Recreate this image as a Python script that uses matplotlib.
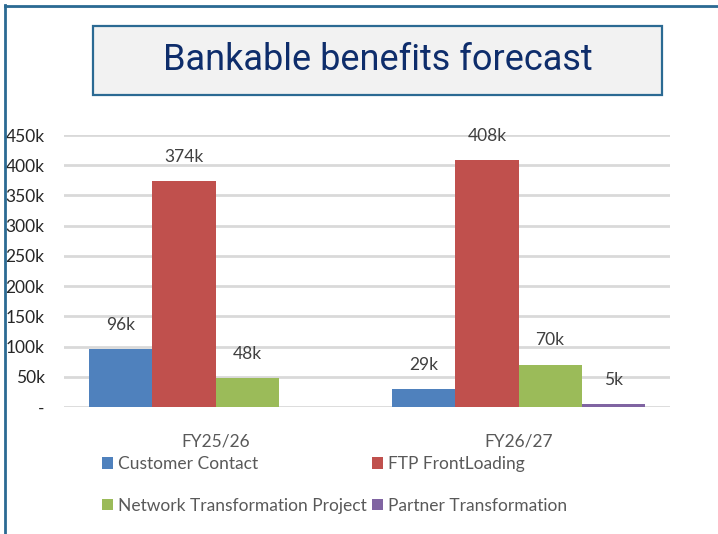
import matplotlib
matplotlib.use("Agg")
import matplotlib.pyplot as plt
from matplotlib.patches import Rectangle
from matplotlib.lines import Line2D
import numpy as np

categories = ["FY25/26", "FY26/27"]
series_names = ["Customer Contact", "FTP FrontLoading",
                "Network Transformation Project", "Partner Transformation"]
series_values = {
    "Customer Contact": [96000, 29000],
    "FTP FrontLoading": [374000, 408000],
    "Network Transformation Project": [48000, 70000],
    "Partner Transformation": [0, 5000],
}
series_colors = ["#4F81BD", "#C0504D", "#9BBB59", "#8064A2"]
yticks = [0, 50000, 100000, 150000, 200000, 250000, 300000, 350000, 400000, 450000]
ytick_labels = ["-", "50k", "100k", "150k", "200k", "250k", "300k", "350k", "400k", "450k"]
title = "Bankable benefits forecast"

W, H = 718, 534
fig = plt.figure(figsize=(W / 100, H / 100), dpi=100)
fig.patch.set_facecolor("white")

body_font = ["Lato", "DejaVu Sans"]

# outer frame (top and left edges)
border = "#2B6A93"
fig.add_artist(Line2D([4.5 / W, 1], [1 - 7 / H, 1 - 7 / H], color="#DDDDDD", lw=1.5, transform=fig.transFigure))
fig.add_artist(Line2D([5 / W, 1], [1 - 5.5 / H, 1 - 5.5 / H], color=border, lw=2, transform=fig.transFigure))
fig.add_artist(Line2D([5 / W, 5 / W], [0, 1 - 5 / H], color=border, lw=2, transform=fig.transFigure))

# title box
bx0, by0, bx1, by1 = 93, 26, 662, 95
fig.add_artist(Rectangle((bx0 / W, 1 - by1 / H), (bx1 - bx0) / W, (by1 - by0) / H,
                         transform=fig.transFigure, facecolor="#F2F2F2",
                         edgecolor=border, lw=1.6))
fig.text((bx0 + bx1) / 2 / W, 1 - 60.5 / H, title, ha="center", va="center",
         fontsize=26, color="#0E2D6B", family=["Roboto", "DejaVu Sans"])

# plot area
ax_left, ax_right, ax_top, ax_bottom = 64, 670, 135, 407
ax = fig.add_axes([ax_left / W, 1 - ax_bottom / H, (ax_right - ax_left) / W, (ax_bottom - ax_top) / H])
ax.set_ylim(0, 450000)
ax.set_xlim(-0.5, len(categories) - 0.5)
for s in ax.spines.values():
    s.set_visible(False)
ax.set_yticks(yticks)
ax.set_yticklabels(ytick_labels, family=body_font, fontsize=12.5, color="#262626")
ax.yaxis.grid(True, color="#D9D9D9", lw=2)
ax.set_axisbelow(True)
ax.tick_params(axis="y", length=0, pad=14)

n = len(series_names)
bar_w = 0.208
x = np.arange(len(categories))
handles = {}
for i, (name, col) in enumerate(zip(series_names, series_colors)):
    offs = (i - (n - 1) / 2) * bar_w
    vals = series_values[name]
    bars = ax.bar(x + offs, vals, width=bar_w, color=col, zorder=3)
    handles[name] = bars
    for xi, v in zip(x + offs, vals):
        if v > 0:
            ax.annotate(f"{v // 1000}k", (xi, v), xytext=(0, 17.5), textcoords="offset points",
                        ha="center", va="center", fontsize=12.5, color="#404040",
                        family=body_font)

ax.set_xticks(x)
ax.set_xticklabels(categories, family=body_font, fontsize=12.5, color="#595959")
ax.tick_params(axis="x", length=0, pad=19)

# legend laid out row by row (2 columns)
order = [series_names[0], series_names[2], series_names[1], series_names[3]]
leg = fig.legend([handles[k] for k in order], order, ncol=2, loc="upper left",
                 bbox_to_anchor=(102 / W, 1 - 456 / H), frameon=False,
                 prop={"family": body_font, "size": 12.5},
                 handlelength=0.62, handleheight=0.62, handletextpad=0.3,
                 columnspacing=0.3, labelspacing=1.48, borderpad=0, borderaxespad=0)
for t in leg.get_texts():
    t.set_color("#595959")

fig.savefig("out.png", dpi=100, facecolor="white")
